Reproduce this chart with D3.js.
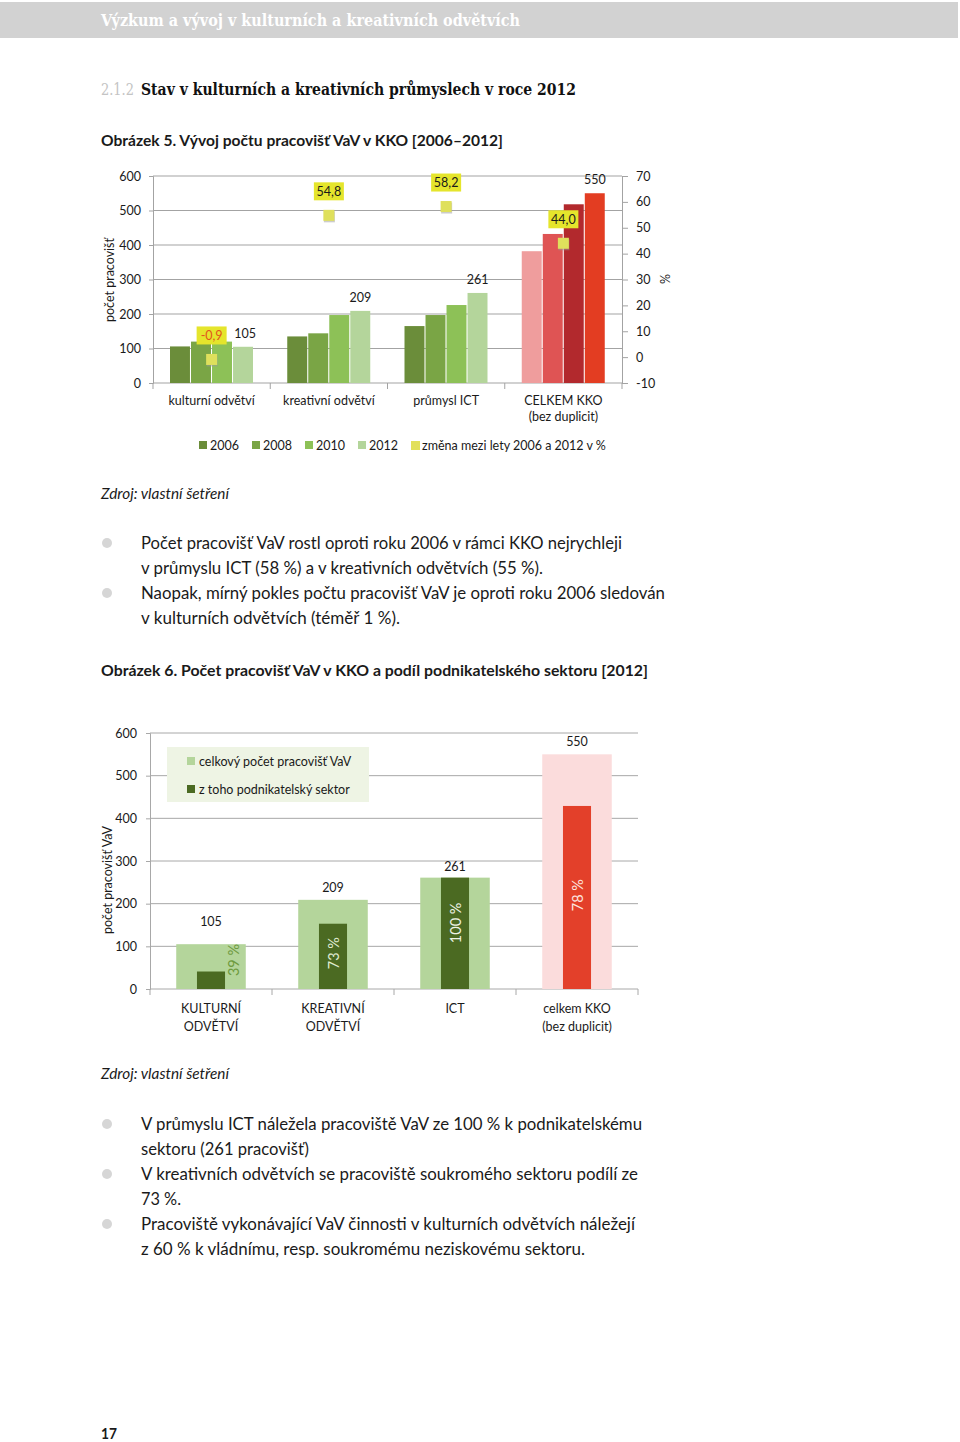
<!DOCTYPE html>
<html><head><meta charset="utf-8">
<script src="https://cdn.jsdelivr.net/npm/d3@7"></script>
<style>html,body{margin:0;padding:0;background:#fff}svg{display:block}</style>
</head><body>
<script>
// ---------- DATA ----------
const cats1 = ["kulturní odvětví", "kreativní odvětví", "průmysl ICT", "CELKEM KKO|(bez duplicit)"];
const years = ["2006", "2008", "2010", "2012"];
const v2006 = [106, 135, 165, 382];
const v2008 = [120, 144, 197, 432];
const v2010 = [120, 197, 226, 518];
const v2012 = [105, 209, 261, 550];
const changePct = [-0.9, 54.8, 58.2, 44.0];
const changeLabels = ["-0,9", "54,8", "58,2", "44,0"];
const leftTicks1 = [0, 100, 200, 300, 400, 500, 600];
const rightTicks1 = [-10, 0, 10, 20, 30, 40, 50, 60, 70];
const legend1 = ["2006", "2008", "2010", "2012", "změna mezi lety 2006 a 2012 v %"];

const cats2 = ["KULTURNÍ|ODVĚTVÍ", "KREATIVNÍ|ODVĚTVÍ", "ICT", "celkem KKO|(bez duplicit)"];
const totals2 = [105, 209, 261, 550];
const business2 = [41, 153, 261, 429];
const shareLabels = ["39 %", "73 %", "100 %", "78 %"];
const shareLabelAt = [68, 84, 155, 220];
const totalLabelAt = [159, 239, 288, 581];
const ticks2 = [0, 100, 200, 300, 400, 500, 600];
const legend2 = ["celkový počet pracovišť VaV", "z toho podnikatelský sektor"];

// ---------- SETUP ----------
const W = 960, H = 1442;
const svg = d3.select("body").append("svg").attr("width", W).attr("height", H);
const SANS = "Lato, 'Open Sans', sans-serif";
const SLAB = "'DejaVu Serif Condensed', 'DejaVu Serif', serif";
const CF = 12.5; // chart font size
const plain = d => String(d);

function txt(x, y, s, o = {}) {
  const t = svg.append("text").attr("x", x).attr("y", y).text(s)
    .attr("font-family", o.family || SANS)
    .attr("font-size", o.size || 16)
    .attr("font-weight", o.weight || "normal")
    .attr("font-style", o.style || "normal")
    .attr("fill", o.fill || "#1a1a1a")
    .attr("text-anchor", o.anchor || "start");
  if (o.width) t.attr("textLength", o.width).attr("lengthAdjust", "spacingAndGlyphs");
  return t;
}

// ---------- PAGE TEXT ----------
svg.append("rect").attr("x", 0).attr("y", 2).attr("width", 958).attr("height", 36).attr("fill", "#d2d2d2");
txt(101, 26, "Výzkum a vývoj v kulturních a kreativních odvětvích", {family: SLAB, size: 17, weight: "bold", fill: "#fff", width: 419});
txt(101, 95, "2.1.2", {family: SLAB, size: 17, fill: "#c4c4c4", width: 33});
txt(141, 95, "Stav v kulturních a kreativních průmyslech v roce 2012", {family: SLAB, size: 17, weight: "bold", fill: "#111", width: 435});
txt(101, 146, "Obrázek 5. Vývoj počtu pracovišť VaV v KKO [2006–2012]", {size: 15.5, weight: "bold", width: 402});

txt(101, 499, "Zdroj: vlastní šetření", {size: 15, style: "italic", width: 128});
const bullets1 = [
  ["Počet pracovišť VaV rostl oproti roku 2006 v rámci KKO nejrychleji", 481],
  ["v průmyslu ICT (58 %) a v kreativních odvětvích (55 %).", 402],
  ["Naopak, mírný pokles počtu pracovišť VaV je oproti roku 2006 sledován", 524],
  ["v kulturních odvětvích (téměř 1 %).", 259]
];
bullets1.forEach((b, i) => txt(141, 549 + i * 25, b[0], {size: 17, width: b[1]}));
[543, 593].forEach(cy => svg.append("circle").attr("cx", 107).attr("cy", cy).attr("r", 5).attr("fill", "#d6d6d6"));

txt(101, 676, "Obrázek 6. Počet pracovišť VaV v KKO a podíl podnikatelského sektoru [2012]", {size: 15.5, weight: "bold", width: 547});

txt(101, 1079, "Zdroj: vlastní šetření", {size: 15, style: "italic", width: 128});
const bullets2 = [
  ["V průmyslu ICT náležela pracoviště VaV ze 100 % k podnikatelskému", 501],
  ["sektoru (261 pracovišť)", 168],
  ["V kreativních odvětvích se pracoviště soukromého sektoru podílí ze", 497],
  ["73 %.", 40],
  ["Pracoviště vykonávající VaV činnosti v kulturních odvětvích náležejí", 494],
  ["z 60 % k vládnímu, resp. soukromému neziskovému sektoru.", 444]
];
bullets2.forEach((b, i) => txt(141, 1130 + i * 25, b[0], {size: 17, width: b[1]}));
[1124, 1174, 1224].forEach(cy => svg.append("circle").attr("cx", 107).attr("cy", cy).attr("r", 5).attr("fill", "#d6d6d6"));

txt(101, 1439, "17", {size: 15, weight: "bold", width: 16});

// ---------- CHART 1 ----------
const g1 = svg.append("g");
const x0 = d3.scaleBand().domain(cats1).range([153, 622]);
const x1 = d3.scaleBand().domain(years).range([17, 100]).paddingInner(0.05);
const yL = d3.scaleLinear().domain([0, 600]).range([383, 176]);
const yR = d3.scaleLinear().domain([-10, 70]).range([383, 176]);
const grid1 = "#a3a3a3";

g1.append("g").selectAll("line").data(leftTicks1).join("line")
  .attr("x1", 153).attr("x2", 622).attr("y1", d => yL(d)).attr("y2", d => yL(d))
  .attr("stroke", grid1).attr("stroke-width", 1);

const axL = g1.append("g").attr("transform", "translate(153,0)")
  .call(d3.axisLeft(yL).tickValues(leftTicks1).tickFormat(plain).tickSize(4).tickPadding(8));
const axR = g1.append("g").attr("transform", "translate(622,0)")
  .call(d3.axisRight(yR).tickValues(rightTicks1).tickFormat(plain).tickSize(6).tickPadding(8));
[axL, axR].forEach(a => {
  a.selectAll("path,line").attr("stroke", grid1);
  a.selectAll("text").attr("font-family", SANS).attr("font-size", CF).attr("fill", "#1a1a1a");
});

const bounds1 = cats1.map(c => x0(c)).concat([x0.range()[1]]);
g1.append("g").selectAll("line").data(bounds1).join("line")
  .attr("x1", d => d).attr("x2", d => d).attr("y1", 383).attr("y2", 389)
  .attr("stroke", grid1);

const greens = ["#6b8d3a", "#7aa545", "#8dc157", "#b4d59b"];
const reds = ["#ef9d9d", "#df5454", "#b2292d", "#e33d22"];
const series1 = [v2006, v2008, v2010, v2012];
cats1.forEach((c, ci) => {
  const grp = g1.append("g").attr("transform", `translate(${x0(c)},0)`);
  grp.selectAll("rect").data(years).join("rect")
    .attr("x", d => x1(d)).attr("width", x1.bandwidth())
    .attr("y", (d, i) => yL(series1[i][ci]))
    .attr("height", (d, i) => yL(0) - yL(series1[i][ci]))
    .attr("fill", (d, i) => ci === 3 ? reds[i] : greens[i]);
  const v = v2012[ci];
  grp.append("text").attr("x", x1("2012") + x1.bandwidth() / 2 + (ci === 0 ? 2 : 0)).attr("y", yL(v) - 9)
    .attr("text-anchor", "middle").attr("font-family", SANS).attr("font-size", CF).attr("fill", "#1a1a1a").text(v);
});

// change markers
cats1.forEach((c, ci) => {
  const cx = x0(c) + x0.bandwidth() / 2;
  const cy = yR(changePct[ci]);
  g1.append("rect").attr("x", cx - 5).attr("y", cy - 4).attr("width", 11).attr("height", 11).attr("fill", "#9a9a9a").attr("opacity", 0.5);
  g1.append("rect").attr("x", cx - 5.5).attr("y", cy - 5.5).attr("width", 11).attr("height", 11).attr("fill", "#dfe05c");
  const ly = cy - 24;
  g1.append("rect").attr("x", cx - 15).attr("y", ly - 9).attr("width", 30).attr("height", 18).attr("fill", "#e5e52c");
  g1.append("text").attr("x", cx).attr("y", ly + 4.5).attr("text-anchor", "middle")
    .attr("font-family", SANS).attr("font-size", CF)
    .attr("fill", changePct[ci] < 0 ? "#e2561c" : "#1a1a1a").text(changeLabels[ci]);
});

cats1.forEach(c => {
  const cx = x0(c) + x0.bandwidth() / 2;
  c.split("|").forEach((line, li) => {
    g1.append("text").attr("x", cx).attr("y", 405 + li * 16).attr("text-anchor", "middle")
      .attr("font-family", SANS).attr("font-size", CF).attr("fill", "#1a1a1a").text(line);
  });
});

g1.append("text").attr("transform", "translate(114,280) rotate(-90)").attr("text-anchor", "middle")
  .attr("font-family", SANS).attr("font-size", 12.5).attr("fill", "#1a1a1a").text("počet pracovišť");
g1.append("text").attr("transform", "translate(670,279) rotate(-90)").attr("text-anchor", "middle")
  .attr("font-family", SANS).attr("font-size", CF).attr("fill", "#1a1a1a").text("%");

const legX = [199, 252, 305, 358, 411];
const legCol = greens.concat(["#e2e05a"]);
legend1.forEach((l, i) => {
  g1.append("rect").attr("x", legX[i]).attr("y", 441).attr("width", i === 4 ? 9 : 8).attr("height", i === 4 ? 9 : 8).attr("fill", legCol[i]);
  g1.append("text").attr("x", legX[i] + 11).attr("y", 449.5).attr("font-family", SANS).attr("font-size", CF)
    .attr("fill", "#1a1a1a").text(l);
});

// ---------- CHART 2 ----------
const g2 = svg.append("g");
const xb = d3.scaleBand().domain(cats2).range([150, 638]);
const y2 = d3.scaleLinear().domain([0, 600]).range([989, 733]);
const grid2 = "#a8a8a8";
g2.append("g").selectAll("line").data(ticks2).join("line")
  .attr("x1", 150).attr("x2", 638).attr("y1", d => y2(d)).attr("y2", d => y2(d))
  .attr("stroke", grid2);
const ax2 = g2.append("g").attr("transform", "translate(150,0)")
  .call(d3.axisLeft(y2).tickValues(ticks2).tickFormat(plain).tickSize(4).tickPadding(9));
ax2.selectAll("path,line").attr("stroke", grid2);
ax2.selectAll("text").attr("font-family", SANS).attr("font-size", CF).attr("fill", "#1a1a1a");
const bounds2 = cats2.map(c => xb(c)).concat([xb.range()[1]]);
g2.append("g").selectAll("line").data(bounds2).join("line")
  .attr("x1", d => d).attr("x2", d => d).attr("y1", 989).attr("y2", 995).attr("stroke", grid2);

const totW = xb.bandwidth() * 0.57, busW = xb.bandwidth() * 0.23;
const totCol = ["#b4d59b", "#b4d59b", "#b4d59b", "#fbdcdc"];
const busCol = ["#4b6a22", "#4b6a22", "#4b6a22", "#e3402a"];
const shareCol = ["#6f9b3f", "#dfe9cf", "#eef4e6", "#fde2de"];
g2.append("g").selectAll("rect").data(cats2).join("rect")
  .attr("x", d => xb(d) + (xb.bandwidth() - totW) / 2).attr("width", totW)
  .attr("y", (d, i) => y2(totals2[i])).attr("height", (d, i) => y2(0) - y2(totals2[i]))
  .attr("fill", (d, i) => totCol[i]);
g2.append("g").selectAll("rect").data(cats2).join("rect")
  .attr("x", d => xb(d) + (xb.bandwidth() - busW) / 2).attr("width", busW)
  .attr("y", (d, i) => y2(business2[i])).attr("height", (d, i) => y2(0) - y2(business2[i]))
  .attr("fill", (d, i) => busCol[i]);

cats2.forEach((c, i) => {
  const cx = xb(c) + xb.bandwidth() / 2;
  g2.append("text").attr("x", cx).attr("y", y2(totalLabelAt[i]) + 4.5).attr("text-anchor", "middle")
    .attr("font-family", SANS).attr("font-size", CF).attr("fill", "#1a1a1a").text(totals2[i]);
  const barH = y2(0) - y2(business2[i]);
  const lx = barH < 40 ? cx + busW / 2 + 8 : cx;
  g2.append("text").attr("transform", `translate(${lx},${y2(shareLabelAt[i])}) rotate(-90)`)
    .attr("text-anchor", "middle").attr("dominant-baseline", "central")
    .attr("font-family", SANS).attr("font-size", 14.5).attr("fill", shareCol[i]).text(shareLabels[i]);
  c.split("|").forEach((line, li) => {
    g2.append("text").attr("x", cx).attr("y", 1013 + li * 18).attr("text-anchor", "middle")
      .attr("font-family", SANS).attr("font-size", CF).attr("fill", "#1a1a1a").text(line);
  });
});

g2.append("rect").attr("x", 167).attr("y", 747).attr("width", 202).attr("height", 55).attr("fill", "#eef4e4");
[totCol[0], busCol[0]].forEach((col, i) => {
  g2.append("rect").attr("x", 187).attr("y", 757 + i * 28).attr("width", 8).attr("height", 8).attr("fill", col);
  g2.append("text").attr("x", 199).attr("y", 765.5 + i * 28).attr("font-family", SANS).attr("font-size", CF)
    .attr("fill", "#1a1a1a").text(legend2[i]);
});

g2.append("text").attr("transform", "translate(112,880) rotate(-90)").attr("text-anchor", "middle")
  .attr("font-family", SANS).attr("font-size", 12.5).attr("fill", "#1a1a1a").text("počet pracovišť VaV");
</script>
</body></html>
